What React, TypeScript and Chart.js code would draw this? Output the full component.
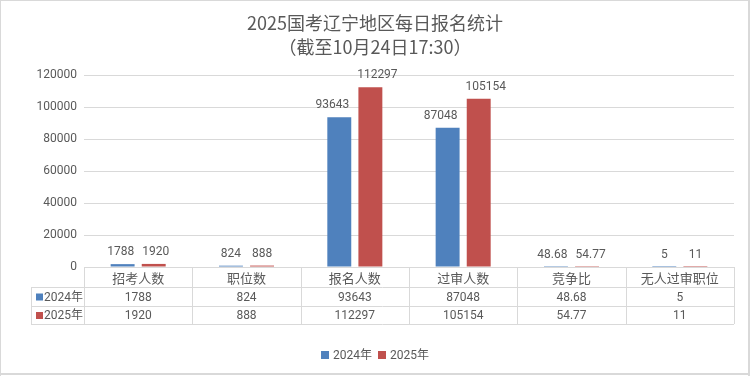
import React, { useEffect, useRef } from "react";
import { Chart, registerables } from "chart.js";

Chart.register(...registerables);

const titleLines = ["2025国考辽宁地区每日报名统计", "（截至10月24日17:30）"];
const categories = ["招考人数", "职位数", "报名人数", "过审人数", "竞争比", "无人过审职位"];
const seriesNames = ["2024年", "2025年"];
const values2024 = [1788, 824, 93643, 87048, 48.68, 5];
const values2025 = [1920, 888, 112297, 105154, 54.77, 11];
const seriesColors = ["#4F81BD", "#C0504D"];
const yMin = 0;
const yMax = 120000;
const yStep = 20000;

const TEXT = "#595959";
const GRID = "#d9d9d9";
const NUM_FONT = "Roboto, 'Noto Sans CJK SC', sans-serif";
const CJK_FONT = "'Noto Sans CJK SC', Roboto, sans-serif";

const customPlugin = {
  id: "custom",
  afterDraw(chart: any) {
    const ctx = chart.ctx as CanvasRenderingContext2D;
    const area = chart.chartArea;
    const W = chart.width;
    const H = chart.height;
    ctx.save();

    // title
    ctx.fillStyle = TEXT;
    ctx.textAlign = "center";
    ctx.textBaseline = "middle";
    ctx.font = `18px ${CJK_FONT}`;
    ctx.fillText(titleLines[0], W / 2, 23);
    ctx.fillText(titleLines[1], W / 2, 47);

    // data labels (pushed apart when the pair would collide)
    ctx.font = `12px ${NUM_FONT}`;
    const all = [values2024, values2025];
    const m0 = chart.getDatasetMeta(0).data;
    const m1 = chart.getDatasetMeta(1).data;
    for (let i = 0; i < categories.length; i++) {
      const t0 = String(all[0][i]);
      const t1 = String(all[1][i]);
      const w0 = ctx.measureText(t0).width;
      const w1 = ctx.measureText(t1).width;
      let x0 = m0[i].x;
      let x1 = m1[i].x;
      const gap = x1 - w1 / 2 - (x0 + w0 / 2);
      const minGap = 8;
      if (gap < minGap) {
        const d = (minGap - gap) / 2;
        x0 -= d;
        x1 += d;
      }
      ctx.fillStyle = TEXT;
      ctx.fillText(t0, x0, m0[i].y - 12);
      ctx.fillText(t1, x1, m1[i].y - 12);
    }

    // table
    const left = area.left;
    const right = area.right;
    const colW = (right - left) / categories.length;
    const y0 = area.bottom;
    const y1 = y0 + 20;
    const y2 = y1 + 19;
    const y3 = y2 + 18;
    const labelLeft = 31;
    ctx.strokeStyle = GRID;
    ctx.lineWidth = 1;
    const hline = (xa: number, xb: number, y: number) => {
      ctx.beginPath();
      ctx.moveTo(xa, Math.round(y) + 0.5);
      ctx.lineTo(xb, Math.round(y) + 0.5);
      ctx.stroke();
    };
    const vline = (x: number, ya: number, yb: number) => {
      ctx.beginPath();
      ctx.moveTo(Math.round(x) + 0.5, ya);
      ctx.lineTo(Math.round(x) + 0.5, yb);
      ctx.stroke();
    };
    hline(left, right, y0);
    hline(labelLeft, right, y1);
    hline(labelLeft, right, y2);
    hline(labelLeft, right, y3);
    vline(labelLeft, y1, y3);
    for (let i = 0; i <= categories.length; i++) {
      vline(left + i * colW, y0, y3);
    }
    ctx.fillStyle = TEXT;
    ctx.textAlign = "center";
    ctx.font = `13px ${CJK_FONT}`;
    categories.forEach((c, i) => {
      ctx.fillText(c, left + (i + 0.5) * colW, (y0 + y1) / 2 + 1);
    });
    const rows = [
      [y1, y2],
      [y2, y3],
    ];
    rows.forEach(([ya, yb], r) => {
      const cy = (ya + yb) / 2 + 1;
      ctx.font = `12px ${NUM_FONT}`;
      ctx.textAlign = "center";
      all[r].forEach((v, i) => {
        ctx.fillStyle = TEXT;
        ctx.fillText(String(v), left + (i + 0.5) * colW, cy);
      });
      ctx.fillStyle = seriesColors[r];
      ctx.fillRect(36, cy - 4, 7, 7);
      ctx.fillStyle = TEXT;
      ctx.textAlign = "left";
      ctx.fillText(seriesNames[r], 44, cy);
    });

    // legend
    ctx.font = `12px ${NUM_FONT}`;
    ctx.textAlign = "left";
    const box = 8;
    const gapBoxText = 4;
    const gapItems = 6;
    const widths = seriesNames.map((n) => ctx.measureText(n).width);
    const total = widths.reduce((a, w) => a + box + gapBoxText + w, 0) + gapItems;
    let x = W / 2 - total / 2;
    const ly = 355;
    seriesNames.forEach((n, i) => {
      ctx.fillStyle = seriesColors[i];
      ctx.fillRect(x, ly - 4, box, box);
      ctx.fillStyle = TEXT;
      ctx.fillText(n, x + box + gapBoxText, ly + 1);
      x += box + gapBoxText + widths[i] + gapItems;
    });

    // outer border
    ctx.fillStyle = GRID;
    ctx.fillRect(0, 0, W, 1);
    ctx.fillRect(0, 0, 1, H);
    ctx.fillRect(W - 2, 0, 2, H);
    ctx.fillRect(0, H - 3, W, 2);
    ctx.restore();
  },
};

export default function App() {
  const ref = useRef<HTMLCanvasElement | null>(null);
  useEffect(() => {
    if (!ref.current) return;
    const chart = new Chart(ref.current, {
      type: "bar",
      data: {
        labels: categories,
        datasets: [
          {
            label: seriesNames[0],
            data: values2024,
            backgroundColor: seriesColors[0],
            categoryPercentage: 0.574,
            barPercentage: 0.77,
          },
          {
            label: seriesNames[1],
            data: values2025,
            backgroundColor: seriesColors[1],
            categoryPercentage: 0.574,
            barPercentage: 0.77,
          },
        ],
      },
      options: {
        responsive: false,
        animation: false,
        devicePixelRatio: 1,
        layout: { padding: { top: 75, bottom: 109, left: 0, right: 16 } },
        plugins: {
          legend: { display: false },
          title: { display: false },
          tooltip: { enabled: false },
        },
        scales: {
          x: { display: false },
          y: {
            min: yMin,
            max: yMax,
            afterFit: (s: any) => {
              s.width = 84;
            },
            ticks: {
              stepSize: yStep,
              color: TEXT,
              padding: 7,
              font: { family: NUM_FONT, size: 12 },
              callback: (v: any) => String(v),
            },
            grid: { color: GRID, drawTicks: false },
            border: { display: false },
          },
        },
      },
      plugins: [customPlugin],
    } as any);
    return () => chart.destroy();
  }, []);
  return (
    <div style={{ position: "absolute", left: 0, top: 0, width: 750, height: 376, background: "#fff" }}>
      <canvas ref={ref} width={750} height={376} style={{ display: "block" }} />
    </div>
  );
}
